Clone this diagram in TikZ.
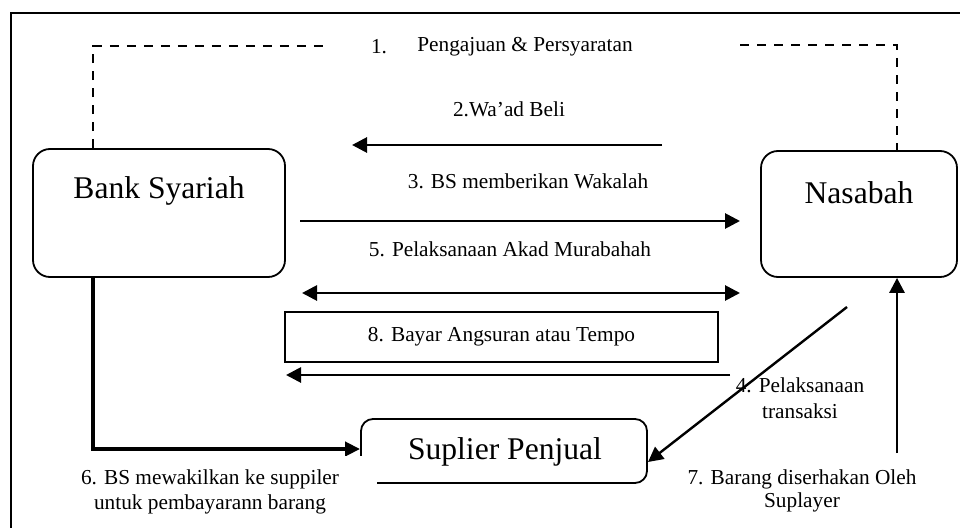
\documentclass[tikz,border=0pt]{standalone}
\usepackage{fontspec}
\setmainfont{Liberation Serif}
\usetikzlibrary{arrows.meta}
\begin{document}
\begin{tikzpicture}[x=1pt,y=-1pt,
  every node/.style={font=\fontsize{21.3}{26}\selectfont, inner sep=0pt},
  bigbox/.style={draw, line width=1.8pt, rounded corners=17pt},
  bigtext/.style={font=\fontsize{31.6}{36}\selectfont},
  plainbox/.style={draw, line width=1.8pt},
  arr/.style={line width=2.8pt, -{Triangle[length=15pt,width=15pt]}},
  darr/.style={line width=2.8pt, {Triangle[length=15pt,width=15pt]}-{Triangle[length=15pt,width=15pt]}},
  dash line/.style={line width=2pt, dash pattern=on 9pt off 8pt},
  lbl/.style={align=center}
]
\useasboundingbox (0,0) rectangle (960,527);
% frame (right and bottom outside the picture)
\draw[line width=1.8pt] (11,560) -- (11,13) -- (1000,13);

% main boxes
\node[bigbox, minimum width=252pt, minimum height=128pt] (bank) at (159,213) {};
\node[bigtext] (banktxt) at (159,191) {Bank Syariah};
\node[bigbox, minimum width=196pt, minimum height=126pt] (nasabah) at (859,214) {};
\node[bigtext] (nasabahtxt) at (859,193) {Nasabah};
\node[bigbox, rounded corners=12pt, minimum width=286pt, minimum height=64pt] (suplier) at (504,451) {};
\node[bigtext] (supliertxt) at (505,452) {Suplier Penjual};
\node[plainbox, minimum width=433pt, minimum height=50pt] (box8) at (501.5,337) {8. Bayar Angsuran atau Tempo};

% coordinates
\coordinate (d1) at (93,46);
\coordinate (d1e) at (327,46);
\coordinate (d2s) at (740,45);
\coordinate (d2) at (897,45);
\coordinate (a2s) at (662,145);
\coordinate (a2e) at (352,145);
\coordinate (a3s) at (300,221);
\coordinate (a3e) at (740,221);
\coordinate (a5s) at (302,293);
\coordinate (a5e) at (740,293);
\coordinate (a8s) at (730,375);
\coordinate (a8e) at (286,375);
\coordinate (a4s) at (847,307);
\coordinate (a4e) at (648,462);
\coordinate (a7s) at (897,453);
\coordinate (a6c) at (93,449);

% dashed step 1
\draw[dash line] (bank.north west -| d1) -- (d1) -- (d1e);
\draw[dash line] (d2s) -- (d2) -- (nasabah.north west -| d2);
\node (t1n) at (379,47) {1.};
\node (t1) at (525,47) {Pengajuan \& Persyaratan};

% arrows
\draw[arr] (a2s) -- (a2e);
\node (t2) at (509,109) {2.Wa’ad Beli};
\draw[arr] (a3s) -- (a3e);
\node (t3) at (528,181) {3. BS memberikan Wakalah};
\node (t5) at (510,249) {5. Pelaksanaan Akad Murabahah};
\draw[darr] (a5s) -- (a5e);
\draw[arr] (a8s) -- (a8e);
\draw[line width=2.4pt, -{Triangle[length=15pt,width=15pt]}] (a4s) -- (a4e);
\node[lbl] (t4) at (800,398) {4. Pelaksanaan\\transaksi};
\draw[arr] (a7s) -- (nasabah.south west -| a7s);
\node[lbl, font=\fontsize{21.3}{23.5}\selectfont] (t7) at (802,491) {7. Barang diserhakan Oleh\\Suplayer};
\draw[line width=3.8pt, -{Triangle[length=15pt,width=14pt]}] (bank.south west -| a6c) -- (a6c) -- (suplier.west |- a6c);
\node[lbl, fill=white, minimum width=334pt, minimum height=72pt, font=\fontsize{21.3}{25}\selectfont] (t6) at (210,492) {6. BS mewakilkan ke suppiler\\untuk pembayarann barang};
\end{tikzpicture}
\end{document}
